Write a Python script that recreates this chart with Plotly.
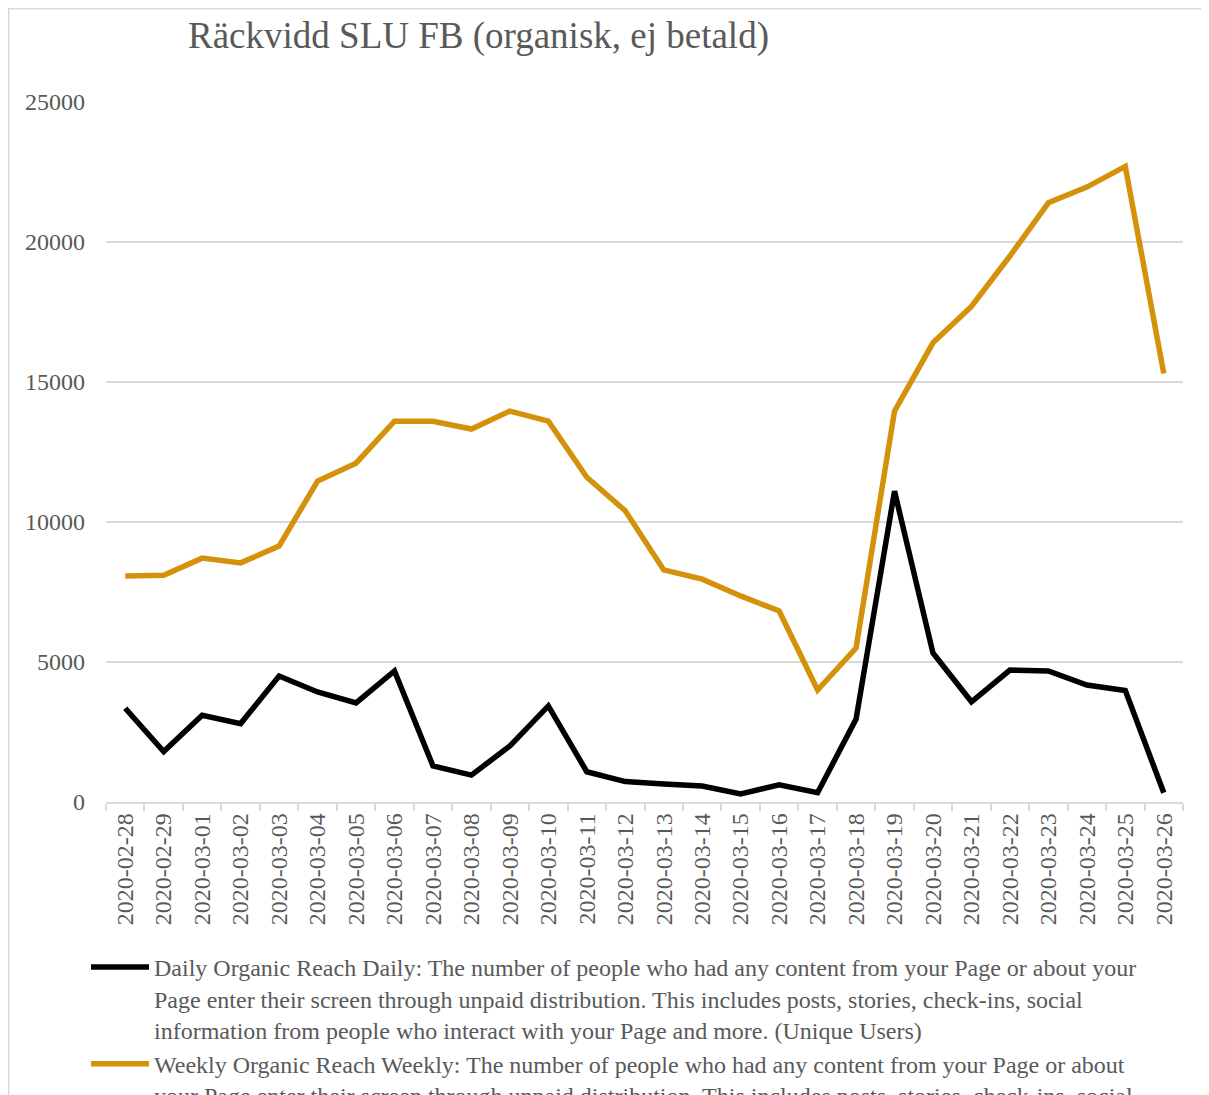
import plotly.graph_objects as go

dates = ["2020-02-28", "2020-02-29", "2020-03-01", "2020-03-02", "2020-03-03", "2020-03-04",
         "2020-03-05", "2020-03-06", "2020-03-07", "2020-03-08", "2020-03-09", "2020-03-10",
         "2020-03-11", "2020-03-12", "2020-03-13", "2020-03-14", "2020-03-15", "2020-03-16",
         "2020-03-17", "2020-03-18", "2020-03-19", "2020-03-20", "2020-03-21", "2020-03-22",
         "2020-03-23", "2020-03-24", "2020-03-25", "2020-03-26"]

daily = [3350, 1800, 3100, 2800, 4500, 3930, 3540, 4680, 1290, 960, 2000, 3430,
         1080, 730, 640, 570, 290, 610, 330, 2960, 11100, 5320, 3580, 4710,
         4680, 4180, 3980, 330]

weekly = [8070, 8100, 8710, 8540, 9140, 11460, 12100, 13600, 13600, 13320, 13960, 13600,
          11600, 10400, 8290, 7960, 7360, 6820, 4000, 5500, 13960, 16400, 17700, 19500,
          21400, 21960, 22700, 15300]

daily_name = ("Daily Organic Reach Daily: The number of people who had any content from your Page or about your<br>"
              "Page enter their screen through unpaid distribution. This includes posts, stories, check-ins, social<br>"
              "information from people who interact with your Page and more. (Unique Users)")
weekly_name = ("Weekly Organic Reach Weekly: The number of people who had any content from your Page or about<br>"
               "your Page enter their screen through unpaid distribution. This includes posts, stories, check-ins, social<br>"
               "information from people who interact with your Page and more. (Unique Users)")

FONT = "Liberation Serif, Times New Roman, serif"
GREY = "#595959"
GRID = "#D9D9D9"

fig = go.Figure()
fig.add_trace(go.Scatter(x=dates, y=daily, mode="lines", name=daily_name,
                         line=dict(color="#000000", width=5.5)))
fig.add_trace(go.Scatter(x=dates, y=weekly, mode="lines", name=weekly_name,
                         line=dict(color="#D4910A", width=5.5)))

# figure is placed at (8, 8) in the page by the body margin
W, H = 1209, 1095
L, R, T, B = 98, 34, 94, 301
PW, PH = W - L - R, H - T - B

fig.update_layout(
    width=W, height=H,
    paper_bgcolor="white", plot_bgcolor="white",
    margin=dict(l=L, r=R, t=T, b=B, pad=0, autoexpand=False),
    font=dict(family=FONT, color=GREY, size=24),
    title=dict(text="Räckvidd SLU FB (organisk, ej betald)", x=180 / W, xanchor="left", xref="container",
               y=1 - 27 / H, yanchor="middle", yref="container",
               font=dict(family=FONT, size=37, color=GREY)),
    xaxis=dict(type="category", range=[-0.5, len(dates) - 0.5], tickangle=-90,
               showgrid=False, showline=True, linecolor=GRID, linewidth=1.5,
               ticks="outside", tickson="boundaries", ticklen=7, tickcolor=GRID, tickwidth=1.5,
               tickfont=dict(family=FONT, size=24, color=GREY)),
    yaxis=dict(range=[0, 25000], dtick=5000, tickformat="d", showgrid=True, gridcolor=GRID,
               gridwidth=1.5, zeroline=False, showline=False, ticks="", ticklabelstandoff=20,
               tickfont=dict(family=FONT, size=24, color=GREY)),
    showlegend=True,
    legend=dict(x=(78 - L) / PW, xanchor="left", y=-(937 - (H - B)) / PH,
                yanchor="top", valign="top", bgcolor="rgba(0,0,0,0)",
                font=dict(family=FONT, size=24, color=GREY), itemwidth=58, tracegroupgap=10),
    shapes=[dict(type="rect", xref="paper", yref="paper",
                 x0=-(L - 0.75) / PW, x1=1 + 120 / PW,
                 y0=-(B + 60) / PH, y1=1 + (T - 0.75) / PH,
                 line=dict(color=GRID, width=1.5), fillcolor="rgba(0,0,0,0)", layer="below")],
)

fig.write_html("out.html")
